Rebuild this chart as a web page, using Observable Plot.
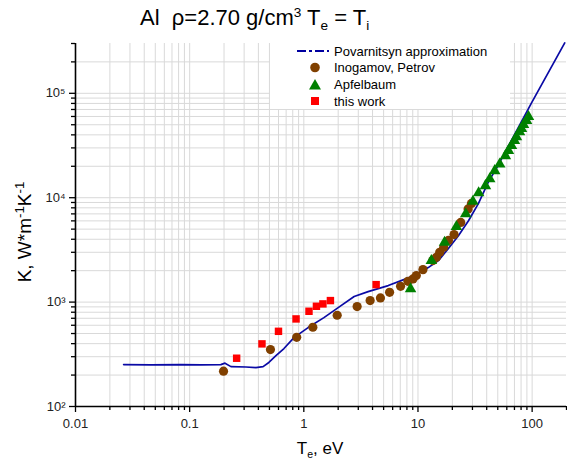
<!DOCTYPE html>
<html><head><meta charset="utf-8">
<script src="https://cdn.jsdelivr.net/npm/d3@7"></script>
<script src="https://cdn.jsdelivr.net/npm/@observablehq/plot@0.6"></script>
<style>
body{margin:0;background:#fff;font-family:Arial,"Liberation Sans",sans-serif;}
#wrap{position:relative;width:567px;height:464px;overflow:hidden;background:#fff;}
#title{position:absolute;left:0;top:0;width:567px;height:40px;}
#title span{position:absolute;left:140px;top:5px;font-size:22px;color:#000;white-space:nowrap;}
sup,sub{font-size:0.62em;line-height:0;}
#chart{position:absolute;left:0;top:40px;}
#ylab{position:absolute;left:25px;top:232px;transform:translate(-50%,-50%) rotate(-90deg);font-size:19px;white-space:nowrap;}
#ylab sup{font-size:0.7em;}
#xlab{position:absolute;left:320px;top:449px;transform:translate(-50%,-50%);font-size:17px;white-space:nowrap;}
#legend{position:absolute;left:0;top:0;}
</style></head><body>
<div id="wrap">
  <div id="title"><span>Al&nbsp; ρ=2.70 g/cm<sup>3</sup> T<sub>e</sub> = T<sub>i</sub></span></div>
  <div id="chart"></div>
  <div id="ylab">K, W*m<sup>-1</sup>K<sup>-1</sup></div>
  <div id="xlab">T<sub>e</sub>, eV</div>
  <svg id="legend" width="567" height="464" style="pointer-events:none">
    <rect x="270" y="43" width="240" height="66" fill="#fff"></rect>
    <line x1="297" x2="329" y1="51" y2="51" stroke="#0000a0" stroke-width="2" stroke-dasharray="9,3,3,3"></line>
    <circle cx="315" cy="67.5" r="4.8" fill="#804000"></circle>
    <path d="M315,79 L321,89.5 L309,89.5 Z" fill="#008000"></path>
    <rect x="311" y="97" width="8" height="8" fill="#ff0000"></rect>
    <g font-size="13" font-family="Arial, 'Liberation Sans', sans-serif" fill="#000">
      <text x="334" y="55.5">Povarnitsyn approximation</text>
      <text x="334" y="72">Inogamov, Petrov</text>
      <text x="334" y="89">Apfelbaum</text>
      <text x="334" y="105.5">this work</text>
    </g>
  </svg>
</div>
<script>
// Povarnitsyn approximation (line)
const povT = [0.0264,0.0455,0.0835,0.125,0.1875,0.204,0.23,0.311,0.38,0.44,0.494,0.57,0.67,0.82,1.09,1.50,2.0,2.76,3.66,5.49,7.13,9.28,12.3,15.1,18.4,22.6,27.7,33.8,41.4,50.7,98.8,193];
const povK = [252,250,252,250,252,260,241,239,236,241,264,307,359,457,570,710,886,1130,1260,1440,1607,1794,2140,2495,3250,4330,6020,8770,14200,20700,81000,304000];
// Inogamov, Petrov (circles)
const inoT = [0.198,0.51,0.866,1.20,1.96,2.93,3.81,4.69,5.64,7.04,8.17,9.04,9.67,11.06,13.5,14.5,15.5,16.8,18.5,20.7,23.7,27.5,29.4];
const inoK = [218,351,460,574,748,906,1034,1097,1241,1417,1582,1667,1794,2047,2500,2685,3000,3345,3900,4430,5800,7800,8810];
// Apfelbaum (triangles)
const apfT = [8.61,13.1,17.1,21.7,26.2,30.3,34.0,39.0,42.5,47.0,52.0,58.3,62.0,65.9,70.0,72.9,77.5,80.7,84.0,89.3,92.9];
const apfK = [1337,2495,3735,5280,6980,9215,11100,13000,15100,18100,21000,25200,28200,31500,35100,38300,42800,45800,50000,54600,59600];
// this work (squares)
const twT = [0.258,0.43,0.60,0.855,1.11,1.29,1.47,1.71,4.30];
const twK = [290,398,525,690,817,912,961,1034,1470];
// ticks
const xMajor = [0.01,0.1,1,10,100];
const xMinorMult = [2,3,4,5,6,7,8,9];
const yMajor = [100,1000,10000,100000];
const yLabels = ["10²","10³","10⁴","10⁵"];
const xLabels = ["0.01","0.1","1","10","100"];

const xMinor = xMajor.flatMap(d => xMinorMult.map(m => +(m*d).toPrecision(3))).filter(v => v <= 200);
const yMinor = yMajor.flatMap(d => xMinorMult.map(m => m*d)).filter(v => v <= 300000);
const xGrid = xMajor.concat(xMinor).filter(v => v > 0.01 && v < 200);
const yGrid = yMajor.concat(yMinor).filter(v => v > 100 && v < 300000);

const pov = povT.map((t,i) => ({t, k: povK[i]}));
const ino = inoT.map((t,i) => ({t, k: inoK[i]}));
const apf = apfT.map((t,i) => ({t, k: apfK[i]}));
const tw = twT.map((t,i) => ({t, k: twK[i]}));

const xFmt = d => { const j = xMajor.findIndex(v => Math.abs(v - d) < 1e-9 * v); return j >= 0 ? xLabels[j] : ""; };
const yFmt = d => { const j = yMajor.findIndex(v => Math.abs(v - d) < 1e-9 * v); return j >= 0 ? yLabels[j] : ""; };

const chart = Plot.plot({
  width: 567, height: 424,
  marginLeft: 75, marginRight: 1, marginTop: 3, marginBottom: 58,
  x: {type: "log", domain: [0.01, 200]},
  y: {type: "log", domain: [100, 300000]},
  style: {fontFamily: "Arial, 'Liberation Sans', sans-serif", fontSize: "13px", color: "#222", background: "transparent"},
  marks: [
    Plot.ruleX(xGrid, {stroke: "#d9d9d9", strokeWidth: 1}),
    Plot.ruleY(yGrid, {stroke: "#d9d9d9", strokeWidth: 1}),
    Plot.line(pov, {x: "t", y: "k", stroke: "#0a0aa5", strokeWidth: 1.7}),
    Plot.dot(ino, {x: "t", y: "k", r: 4.6, fill: "#804000", symbol: "circle"}),
    Plot.dot(apf, {x: "t", y: "k", r: 4.3, fill: "#008000", symbol: "triangle"}),
    Plot.dot(tw, {x: "t", y: "k", r: 4.2, fill: "#ff0000", symbol: "square"}),
    Plot.axisX(xMajor, {tickSize: 6, tickPadding: 6, tickFormat: xFmt, label: null, stroke: "#000", strokeWidth: 1.3}),
    Plot.axisX(xMinor, {tickSize: 4, tickFormat: () => "", label: null, stroke: "#000", strokeWidth: 1.3}),
    Plot.axisY(yMajor, {tickSize: 6, tickPadding: 4, tickFormat: yFmt, label: null, stroke: "#000", strokeWidth: 1.3}),
    Plot.axisY(yMinor, {tickSize: 4, tickFormat: () => "", label: null, stroke: "#000", strokeWidth: 1.3}),
    Plot.ruleX([0.01], {stroke: "#000", strokeWidth: 1.6}),
    Plot.ruleY([100], {stroke: "#000", strokeWidth: 1.6})
  ]
});
document.getElementById("chart").appendChild(chart);
</script>
</body></html>
